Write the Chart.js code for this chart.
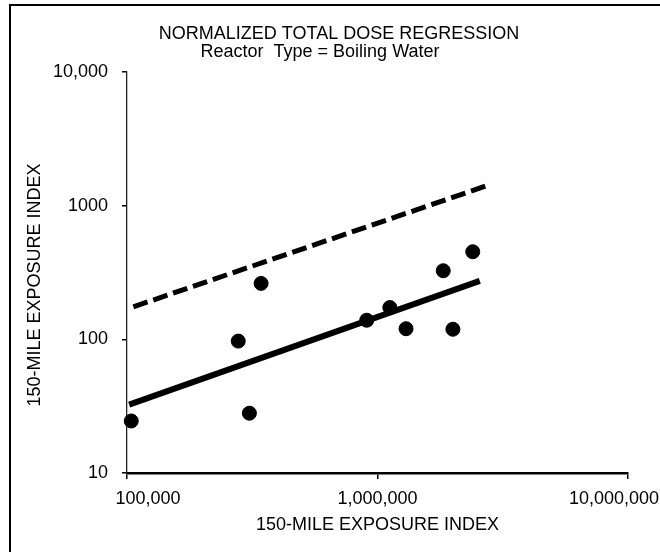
<!DOCTYPE html>
<html><head><meta charset="utf-8">
<script src="https://cdn.jsdelivr.net/npm/chart.js@4/dist/chart.umd.min.js"></script>
<style>html,body{margin:0;padding:0;background:#fff}#wrap{width:660px;height:552px;position:relative}canvas{display:block}</style>
</head><body><div id="wrap"><canvas id="c" width="660" height="552"></canvas></div>
<script>
const titleText = 'NORMALIZED TOTAL DOSE REGRESSION';
const subtitleText = 'Reactor  Type = Boiling Water';
const xAxisTitle = '150-MILE EXPOSURE INDEX';
const yAxisTitle = '150-MILE EXPOSURE INDEX';
const xTickValues = [1e5, 1e6, 1e7];
const xTickLabels = ['100,000', '1,000,000', '10,000,000'];
const yTickValues = [10, 100, 1000, 10000];
const yTickLabels = ['10', '100', '1000', '10,000'];
const exposureIndex = [1.04e5, 2.78e5, 3.08e5, 3.43e5, 9.06e5, 1.12e6, 1.30e6, 1.83e6, 2.00e6, 2.40e6];
const normalizedDose = [24.5, 97, 28, 262, 139, 173, 120, 326, 119, 452];
const regressionX = [1.02e5, 2.56e6];
const regressionY = [32.5, 274];
const upperX = [1.06e5, 2.76e6];
const upperY = [175, 1420];

const FONT = '"Liberation Sans", Arial, Helvetica, sans-serif';
const toPts = (xs, ys) => xs.map((x, i) => ({x: x, y: ys[i]}));

const deco = {
  id: 'deco',
  afterDraw(chart) {
    const ctx = chart.ctx, xs = chart.scales.x;
    ctx.save();
    ctx.fillStyle = '#000';
    ctx.textAlign = 'center';
    ctx.textBaseline = 'middle';
    ctx.font = '18px ' + FONT;
    ctx.fillText(titleText, 339, 34);
    ctx.fillText(subtitleText, 320, 52);
    const shifts = [21, 0, -14];
    xTickValues.forEach((v, i) => ctx.fillText(xTickLabels[i], xs.getPixelForValue(v) + shifts[i], 499));
    ctx.translate(35, 285);
    ctx.rotate(-Math.PI / 2);
    ctx.fillText(yAxisTitle, 0, 0);
    ctx.restore();
    ctx.save();
    ctx.strokeStyle = '#000';
    ctx.lineWidth = 2;
    ctx.beginPath();
    ctx.moveTo(10, 552); ctx.lineTo(10, 5); ctx.lineTo(660, 5);
    ctx.stroke();
    ctx.restore();
  }
};

new Chart(document.getElementById('c'), {
  type: 'scatter',
  data: {
    datasets: [
      {
        label: 'Upper bound', type: 'line', data: toPts(upperX, upperY),
        borderColor: '#000', borderWidth: 5, borderDash: [15, 6], pointRadius: 0,
        fill: false, clip: false, order: 2
      },
      {
        label: 'Regression', type: 'line', data: toPts(regressionX, regressionY),
        borderColor: '#000', borderWidth: 6, pointRadius: 0, fill: false, clip: false, order: 1
      },
      {
        label: 'Plants', data: toPts(exposureIndex, normalizedDose),
        backgroundColor: '#000', borderColor: '#000', pointRadius: 7, pointHoverRadius: 7,
        clip: false, order: 0
      }
    ]
  },
  options: {
    responsive: false,
    devicePixelRatio: 1,
    animation: false,
    events: [],
    layout: {padding: {left: 0, right: 32, top: 72, bottom: 0}},
    plugins: {legend: {display: false}, title: {display: false}, tooltip: {enabled: false}},
    scales: {
      x: {
        type: 'logarithmic', min: 1e5, max: 1e7,
        afterBuildTicks: s => { s.ticks = xTickValues.map(v => ({value: v})); },
        afterFit: s => { s.height = 79; s.paddingLeft = 0; s.paddingRight = 0; },
        ticks: {display: false},
        grid: {display: true, drawOnChartArea: false, drawTicks: true, tickLength: 6, color: '#000', lineWidth: 1.5},
        border: {display: true, color: '#000', width: 2.5},
        title: {display: true, text: xAxisTitle, color: '#000', font: {family: FONT, size: 18}, padding: {top: 0, bottom: 16}}
      },
      y: {
        type: 'logarithmic', min: 10, max: 10000,
        afterBuildTicks: s => { s.ticks = yTickValues.map(v => ({value: v})); },
        afterFit: s => { s.width = 127; s.paddingTop = 0; s.paddingBottom = 0; },
        ticks: {
          display: true, color: '#000', padding: 14, font: {family: FONT, size: 18},
          callback: (v, i) => yTickLabels[i]
        },
        grid: {display: true, drawOnChartArea: false, drawTicks: true, tickLength: 5, color: '#000', lineWidth: 1.5},
        border: {display: true, color: '#222', width: 1.3, dash: [6, 2]}
      }
    }
  },
  plugins: [deco]
});
</script>
</body></html>
